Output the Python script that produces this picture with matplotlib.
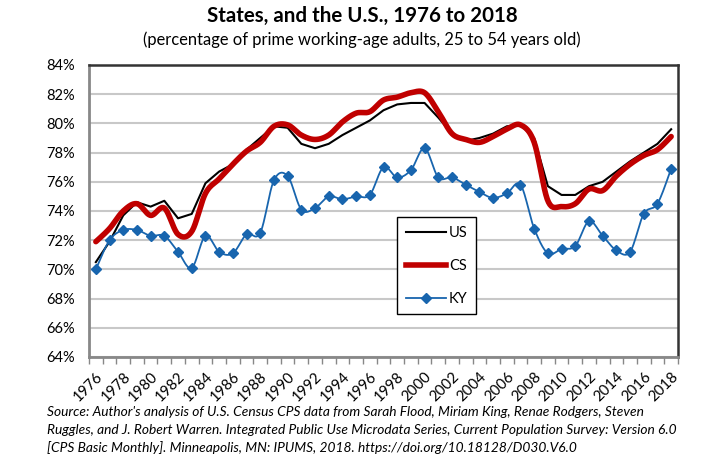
import numpy as np
import matplotlib
matplotlib.use("Agg")
import matplotlib.pyplot as plt
from matplotlib.lines import Line2D

years = list(range(1976, 2019))
us = [70.5, 71.9, 73.7, 74.6, 74.3, 74.7, 73.5, 73.8, 75.9, 76.7, 77.2, 78.2, 79.0, 79.8,
      79.7, 78.6, 78.3, 78.6, 79.2, 79.7, 80.2, 80.9, 81.3, 81.4, 81.4, 80.4, 79.3, 78.8,
      79.0, 79.3, 79.8, 79.9, 79.0, 75.7, 75.1, 75.1, 75.7, 76.0, 76.7, 77.4, 78.0, 78.6, 79.6]
cs = [71.9, 72.8, 74.0, 74.5, 73.7, 74.2, 72.4, 72.6, 75.2, 76.2, 77.2, 78.1, 78.7, 79.8,
      79.9, 79.2, 78.9, 79.2, 80.1, 80.7, 80.8, 81.6, 81.8, 82.1, 82.1, 80.8, 79.3, 78.9,
      78.7, 79.1, 79.6, 79.9, 78.7, 74.7, 74.3, 74.5, 75.5, 75.4, 76.4, 77.2, 77.8, 78.2, 79.1]
ky = [70.0, 72.0, 72.7, 72.7, 72.3, 72.3, 71.2, 70.1, 72.3, 71.2, 71.1, 72.4, 72.5, 76.1,
      76.4, 74.1, 74.2, 75.0, 74.8, 75.0, 75.1, 77.0, 76.3, 76.8, 78.3, 76.3, 76.3, 75.8,
      75.3, 74.9, 75.2, 75.8, 72.8, 71.1, 71.4, 71.6, 73.3, 72.3, 71.3, 71.2, 73.8, 74.5, 76.9]
yticks = list(range(64, 86, 2))
series_names = ["US", "CS", "KY"]
title = "States, and the U.S., 1976 to 2018"
subtitle = "(percentage of prime working-age adults, 25 to 54 years old)"
source_lines = [
    "Source: Author's analysis of U.S. Census CPS data from Sarah Flood, Miriam King, Renae Rodgers, Steven",
    "Ruggles, and J. Robert Warren. Integrated Public Use Microdata Series, Current Population Survey: Version 6.0",
    "[CPS Basic Monthly]. Minneapolis, MN: IPUMS, 2018. https://doi.org/10.18128/D030.V6.0",
]

plt.rcParams['font.family'] = ['Lato', 'DejaVu Sans']


def smooth(xs, ys, n=20):
    # Excel-style smoothed line (Catmull-Rom Bezier)
    xs = np.asarray(xs, float)
    ys = np.asarray(ys, float)
    px, py = [], []
    m = len(xs)
    for i in range(m - 1):
        x0, y0 = xs[max(i - 1, 0)], ys[max(i - 1, 0)]
        x1, y1 = xs[i], ys[i]
        x2, y2 = xs[i + 1], ys[i + 1]
        x3, y3 = xs[min(i + 2, m - 1)], ys[min(i + 2, m - 1)]
        c1x, c1y = x1 + (x2 - x0) / 6, y1 + (y2 - y0) / 6
        c2x, c2y = x2 - (x3 - x1) / 6, y2 - (y3 - y1) / 6
        t = np.linspace(0, 1, n, endpoint=(i == m - 2))
        bx = (1 - t) ** 3 * x1 + 3 * (1 - t) ** 2 * t * c1x + 3 * (1 - t) * t ** 2 * c2x + t ** 3 * x2
        by = (1 - t) ** 3 * y1 + 3 * (1 - t) ** 2 * t * c1y + 3 * (1 - t) * t ** 2 * c2y + t ** 3 * y2
        px.extend(bx)
        py.extend(by)
    return np.array(px), np.array(py)


fig = plt.figure(figsize=(7.14, 4.57), dpi=100)
ax = fig.add_axes([89 / 714, 1 - 357 / 457, 589 / 714, 292 / 457])

x = np.arange(len(years))
ky_color = "#1865AE"
cs_color = "#C00000"

ax.plot(x, us, color="black", lw=1.5, zorder=3)
sx, sy = smooth(x, cs)
ax.plot(sx, sy, color=cs_color, lw=4, solid_capstyle='round', zorder=4)
kx, kyy = smooth(x, ky)
ax.plot(kx, kyy, color=ky_color, lw=1.3, zorder=5)
ax.plot(x, ky, ls='none', marker='D', ms=4.6, color=ky_color, zorder=6)

ax.set_xlim(-0.5, len(years) - 0.5)
ax.set_ylim(64, 84)
ax.set_yticks(yticks)
ax.set_yticklabels([f"{v}%" for v in yticks], fontsize=10.5)
ax.tick_params(axis='y', length=0, pad=10)
ax.yaxis.grid(True, color="#C8C8C8", lw=1.5)
ax.set_axisbelow(True)

ax.set_xticks(x[::2])
ax.set_xticklabels([str(y) for y in years[::2]], rotation=45, ha='right',
                   rotation_mode='anchor', fontsize=10.8)
ax.tick_params(axis='x', which='major', length=0, pad=9)
ax.set_xticks(np.arange(-0.5, len(years), 1.0), minor=True)
ax.tick_params(axis='x', which='minor', length=5, width=1, color="#888888")

for s in ['top', 'right']:
    ax.spines[s].set_color("#333333")
    ax.spines[s].set_linewidth(1.8)
for s in ['left', 'bottom']:
    ax.spines[s].set_color("#888888")
    ax.spines[s].set_linewidth(2)

handles = [
    Line2D([], [], color="black", lw=1.5),
    Line2D([], [], color=cs_color, lw=4),
    Line2D([], [], color=ky_color, lw=1.3, marker='D', ms=4.6),
]
leg = ax.legend(handles, series_names, loc='upper left',
                bbox_to_anchor=((397 - 89) / 589, (357 - 217) / 292),
                borderaxespad=0, fancybox=False, edgecolor='black', framealpha=1,
                fontsize=10.5, handlelength=2.75, handletextpad=0.2, labelspacing=1.3,
                borderpad=0.6, numpoints=1)
leg.get_frame().set_linewidth(1)

fig.text(0.507, 1 - 16 / 457, title, ha='center', va='center', fontsize=14.8, fontweight='bold')
fig.text(0.507, 1 - 40 / 457, subtitle, ha='center', va='center', fontsize=11.9)
for i, line in enumerate(source_lines):
    fig.text(47 / 714, 1 - (412 + 18 * i) / 457, line, ha='left', va='center',
             fontsize=9.9, style='italic')

fig.savefig("out.png", dpi=100)
